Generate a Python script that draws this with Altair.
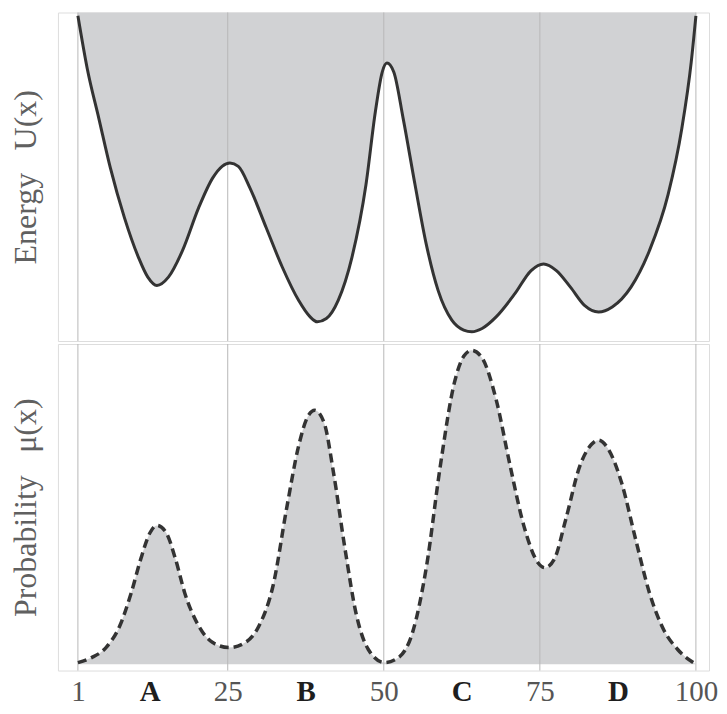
import altair as alt
import pandas as pd

# ---- data ----
energy_x = [1.0, 2.5, 4.35, 6.2, 8.45, 10.7, 12.2, 13.65, 15.5, 17.75, 20.35, 22.6, 24.1, 25.35,
            26.7, 28.55, 31.15, 33.75, 36.35, 38.2, 39.35, 40.8, 42.7, 44.9, 47.15, 48.65, 49.75,
            50.5, 51.6, 53.1, 55.0, 56.8, 58.7, 60.9, 62.8, 64.1, 65.75, 68.0, 71.0, 73.6, 75.6,
            77.65, 79.9, 82.15, 84.4, 86.6, 89.6, 92.55, 95.55, 97.75, 99.25, 100.0]
energy_u = [98, 82, 67, 52, 37, 25, 19, 16.5, 19, 27, 40, 49, 52.5, 53.5,
            52.5, 46, 34, 22, 12, 7, 5.5, 6.5, 12, 25, 47, 69, 81,
            83.7, 81, 67, 47, 29, 15, 6, 3, 2.5, 3.5, 7, 14, 21, 23,
            21, 16, 10.5, 8.5, 10, 16, 27, 44, 64, 84, 98]

prob_x = [1.0, 3.2, 5.5, 7.7, 9.55, 11.05, 12.55, 13.65, 15.15, 16.65, 18.1, 20.35, 22.6, 25.2,
          27.8, 30.0, 32.25, 34.5, 36.35, 37.85, 38.95, 40.45, 41.95, 43.8, 45.65, 47.5, 50.1,
          52.35, 54.6, 56.85, 59.05, 61.3, 62.8, 64.1, 65.75, 68.0, 70.25, 72.45, 74.7, 75.8,
          77.3, 79.15, 81.4, 83.25, 84.4, 85.85, 88.1, 90.35, 92.55, 94.8, 97.05, 100.0]
prob_mu = [0.5, 2, 5, 11.5, 21.5, 31.5, 39.5, 41.7, 39.5, 31.5, 21.5, 11.5, 6.5, 5,
           6.5, 11.5, 23.5, 47.5, 65.5, 74.5, 76.3, 72.5, 57.5, 34.5, 14.5, 4.5, 0.5,
           2, 9.5, 29.5, 59.5, 84.5, 92.5, 94.3, 92, 79.5, 59.5, 41.5, 30.5, 29,
           31.5, 43.5, 59.5, 66, 67.3, 65, 54.5, 37.5, 21.5, 10.5, 4.5, 0]

grid_x = [1, 25, 50, 75, 100]
tick_values = [1, 12.5, 25, 37.5, 50, 62.5, 75, 87.5, 100]
tick_labels = ["1", "A", "25", "B", "50", "C", "75", "D", "100"]

df_u = pd.DataFrame({"x": energy_x, "u": energy_u})
df_p = pd.DataFrame({"x": prob_x, "p": prob_mu})
df_g = pd.DataFrame({"x": grid_x})

FILL = "#d1d2d4"
LINE = "#333333"
FONT = "Liberation Serif"
W = 652

label_expr = " : ".join(
    f"datum.value == {v} ? '{t}'" for v, t in zip(tick_values, tick_labels)
) + " : ''"

xscale = alt.Scale(domain=[-2.2, 102.1], nice=False, zero=False)
is_letter = "datum.value % 25 != 0 && datum.value != 1"

x_top = alt.X("x:Q", scale=xscale, axis=None)
x_bot = alt.X(
    "x:Q", scale=xscale, title=None,
    axis=alt.Axis(
        values=tick_values, labelExpr=label_expr, grid=False, ticks=False, domain=False,
        labelFont=FONT, labelFontSize=29, labelPadding=7, labelFlush=False,
        labelOverlap=False, labelBound=False,
        labelFontWeight={"condition": {"test": is_letter, "value": "bold"}, "value": "normal"},
        labelColor={"condition": {"test": is_letter, "value": "#1e1e1e"}, "value": "#555555"},
    ),
)

def yaxis(title):
    return alt.Axis(title=title, labels=False, ticks=False, domain=False, grid=False,
                    titleFont=FONT, titleFontSize=32, titleFontWeight="normal",
                    titleColor="#606060", titlePadding=15)

top_area = alt.Chart(df_u).mark_area(color=FILL, interpolate="monotone").encode(
    x=x_top,
    y=alt.Y("u:Q", scale=alt.Scale(domain=[-0.3, 99], nice=False, zero=False),
            axis=yaxis("Energy \u2009 U(x)")),
    y2=alt.datum(99),
)
top_grid = alt.Chart(df_g).mark_rule(color="#b8b8b8", strokeWidth=1).encode(x=x_top)
top_line = alt.Chart(df_u).mark_line(color=LINE, strokeWidth=3, interpolate="monotone").encode(
    x=x_top, y="u:Q")
top = alt.layer(top_area, top_grid, top_line).properties(width=W, height=329)

bot_area = alt.Chart(df_p).mark_area(color=FILL, interpolate="monotone").encode(
    x=x_bot,
    y=alt.Y("p:Q", scale=alt.Scale(domain=[-1.9, 96.2], nice=False, zero=False),
            axis=yaxis("Probability \u2009 μ(x)")),
    y2=alt.datum(0),
)
bot_grid = alt.Chart(df_g).mark_rule(color="#b8b8b8", strokeWidth=1).encode(x=x_bot)
bot_line = alt.Chart(df_p).mark_line(color=LINE, strokeWidth=3.5, strokeDash=[9, 5],
                                     interpolate="monotone").encode(x=x_bot, y="p:Q")
bottom = alt.layer(bot_area, bot_grid, bot_line).properties(width=W, height=327)

chart = alt.vconcat(top, bottom, spacing=0).properties(
    padding={"left": 1, "top": 0, "right": 0, "bottom": 2}
).configure_view(stroke="#8c8c8c", strokeWidth=2).configure(background="white")

chart.save("out.html", embed_options={"renderer": "svg", "actions": False})
